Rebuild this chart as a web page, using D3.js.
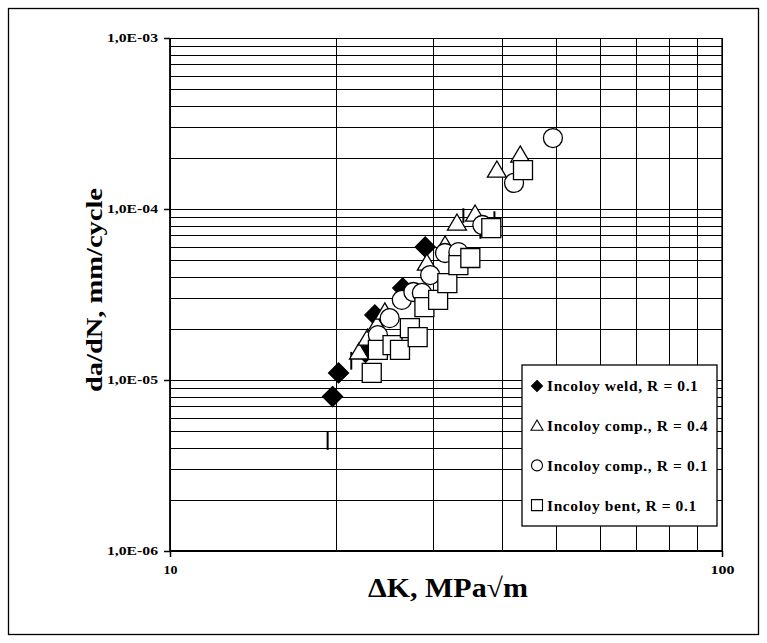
<!DOCTYPE html>
<html>
<head>
<meta charset="utf-8">
<script src="https://cdn.jsdelivr.net/npm/d3@7"></script>
<style>
  body { margin: 0; background: #fff; }
  svg text { font-family: "Liberation Serif", "Times New Roman", serif; font-weight: bold; fill: #000; }
</style>
</head>
<body>
<div id="chart"></div>
<script>
// Series values (dK in MPa*sqrt(m), da/dN in mm/cycle)
var weldK = [19.7, 20.2, 22.6, 23.5, 26.4, 29.0];
var weldV = [8.0e-6, 1.1e-5, 1.45e-5, 2.4e-5, 3.45e-5, 6.0e-5];

var comp04K = [22.0, 22.8, 23.7, 24.5, 29.2, 31.5, 33.1, 35.7, 39.1, 43.1];
var comp04V = [1.46e-5, 1.76e-5, 2.1e-5, 2.5e-5, 4.83e-5, 6.16e-5, 8.28e-5, 9.35e-5, 1.69e-4, 2.07e-4];

var comp01K = [23.8, 25.0, 26.3, 27.6, 28.6, 29.6, 31.5, 33.3, 36.8, 42.0, 49.4];
var comp01V = [1.83e-5, 2.3e-5, 2.94e-5, 3.27e-5, 3.23e-5, 4.11e-5, 5.53e-5, 5.6e-5, 8.06e-5, 1.42e-4, 2.6e-4];

var bentK = [23.2, 23.8, 25.3, 26.1, 27.2, 28.1, 28.9, 30.6, 31.8, 33.3, 35.0, 38.2, 43.6];
var bentV = [1.1e-5, 1.5e-5, 1.6e-5, 1.5e-5, 2.01e-5, 1.78e-5, 2.67e-5, 2.94e-5, 3.69e-5, 4.7e-5, 5.17e-5, 7.74e-5, 1.69e-4];

// leftover short vertical bars seen on the chart
var barK = [19.3, 21.3, 34.0, 36.5, 38.7];
var barLo = [3.9e-6, 1.15e-5, 8.3e-5, 6.7e-5, 8.8e-5];
var barHi = [5.0e-6, 1.46e-5, 1.01e-4, 7.25e-5, 9.7e-5];

var yTickLabels = ['1,0E-06', '1,0E-05', '1,0E-04', '1,0E-03'];
var xTickLabels = ['10', '100'];

var legendNames = ['Incoloy weld, R = 0.1', 'Incoloy comp., R = 0.4', 'Incoloy comp., R = 0.1', 'Incoloy bent, R = 0.1'];

var W = 767, H = 643;
var plotL = 170, plotR = 722, plotT = 38, plotB = 551;

var svg = d3.select('#chart').append('svg')
  .attr('width', W).attr('height', H);

// outer frame
svg.append('rect')
  .attr('x', 8.5).attr('y', 8.5)
  .attr('width', 750).attr('height', 626)
  .attr('fill', '#fff').attr('stroke', '#000').attr('stroke-width', 1.3);

var x = d3.scaleLog().domain([10, 100]).range([plotL, plotR]);
var y = d3.scaleLog().domain([1e-6, 1e-3]).range([plotB, plotT]);

// grid
var g = svg.append('g');
g.selectAll('line.hg').data(y.ticks())
  .enter().append('line')
  .attr('class', 'hg')
  .attr('x1', plotL).attr('x2', plotR)
  .attr('y1', function(d) { return Math.round(y(d)) + 0.5; })
  .attr('y2', function(d) { return Math.round(y(d)) + 0.5; })
  .attr('stroke', '#000').attr('stroke-width', 1);

g.selectAll('line.vg').data(x.ticks())
  .enter().append('line')
  .attr('class', 'vg')
  .attr('y1', plotT).attr('y2', plotB)
  .attr('x1', function(d) { return Math.round(x(d)) + 0.5; })
  .attr('x2', function(d) { return Math.round(x(d)) + 0.5; })
  .attr('stroke', '#000').attr('stroke-width', 1);

// axes
var yAxis = d3.axisLeft(y)
  .tickValues([1e-6, 1e-5, 1e-4, 1e-3])
  .tickSize(6).tickPadding(6)
  .tickFormat(function(d, i) { return yTickLabels[i]; });
var ya = svg.append('g').attr('transform', 'translate(' + plotL + ',0)').call(yAxis);

var xAxis = d3.axisBottom(x)
  .tickValues([10, 100])
  .tickSize(6)
  .tickFormat(function(d, i) { return xTickLabels[i]; });
var xa = svg.append('g').attr('transform', 'translate(0,' + plotB + ')').call(xAxis);

[ya, xa].forEach(function(a) {
  a.select('.domain').remove();
  a.selectAll('line').attr('stroke', '#000').attr('stroke-width', 1.5);
  a.selectAll('text').style('font-size', '13px')
    .style('font-family', '"Liberation Serif", serif').style('font-weight', 'bold');
});
ya.selectAll('text').attr('x', -12).attr('dy', '0.25em')
  .attr('textLength', 51).attr('lengthAdjust', 'spacingAndGlyphs');
xa.selectAll('text').attr('y', 23).attr('dy', 0)
  .attr('textLength', function(d) { return d === 10 ? 14 : 24; })
  .attr('lengthAdjust', 'spacingAndGlyphs');

// plot border lines
svg.append('line').attr('x1', plotL).attr('x2', plotL).attr('y1', plotT).attr('y2', plotB)
  .attr('stroke', '#000').attr('stroke-width', 1.8);
svg.append('line').attr('x1', plotL).attr('x2', plotR).attr('y1', plotB).attr('y2', plotB)
  .attr('stroke', '#000').attr('stroke-width', 1.8);
svg.append('line').attr('x1', plotR).attr('x2', plotR).attr('y1', plotT).attr('y2', plotB)
  .attr('stroke', '#000').attr('stroke-width', 1.3);

// short bars
svg.selectAll('line.bar').data(barK)
  .enter().append('line')
  .attr('x1', function(d) { return x(d); })
  .attr('x2', function(d) { return x(d); })
  .attr('y1', function(d, i) { return y(barLo[i]); })
  .attr('y2', function(d, i) { return y(barHi[i]); })
  .attr('stroke', '#000').attr('stroke-width', 2);

// marker shapes
function diamond(s) { return 'M0,' + (-s) + 'L' + s + ',0L0,' + s + 'L' + (-s) + ',0Z'; }
function triangle(s) { return 'M0,' + (-s * 0.95) + 'L' + s + ',' + (s * 0.75) + 'L' + (-s) + ',' + (s * 0.75) + 'Z'; }
function circle(s) { return 'M' + s + ',0A' + s + ',' + s + ' 0 1,1 ' + (-s) + ',0A' + s + ',' + s + ' 0 1,1 ' + s + ',0Z'; }
function square(s) { return 'M' + (-s) + ',' + (-s) + 'H' + s + 'V' + s + 'H' + (-s) + 'Z'; }

var series = [
  { k: weldK, v: weldV, shape: diamond, size: 10, fill: '#000' },
  { k: comp04K, v: comp04V, shape: triangle, size: 9.5, fill: '#fff' },
  { k: comp01K, v: comp01V, shape: circle, size: 9.5, fill: '#fff' },
  { k: bentK, v: bentV, shape: square, size: 9.5, fill: '#fff' }
];

series.forEach(function(s) {
  svg.append('g').selectAll('path').data(s.k)
    .enter().append('path')
    .attr('transform', function(d, i) { return 'translate(' + x(d) + ',' + y(s.v[i]) + ')'; })
    .attr('d', s.shape(s.size))
    .attr('fill', s.fill)
    .attr('stroke', '#000').attr('stroke-width', 1.3);
});

// legend
var lg = svg.append('g');
lg.append('rect')
  .attr('x', 522).attr('y', 365).attr('width', 195).attr('height', 161)
  .attr('fill', '#fff').attr('stroke', '#000').attr('stroke-width', 1.3);
var legSizes = [5.5, 6, 5.5, 5.5];
legendNames.forEach(function(name, i) {
  var yy = 386 + i * 39.7;
  lg.append('path')
    .attr('transform', 'translate(537,' + yy + ')')
    .attr('d', series[i].shape(legSizes[i]))
    .attr('fill', series[i].fill)
    .attr('stroke', '#000').attr('stroke-width', 1.1);
  lg.append('text')
    .attr('x', 547).attr('y', yy).attr('dy', '0.35em')
    .style('font-size', '15.5px').style('letter-spacing', '0.6px')
    .text(name);
});

// axis titles
svg.append('text')
  .attr('transform', 'translate(102,290) rotate(-90)')
  .attr('text-anchor', 'middle')
  .attr('textLength', 204).attr('lengthAdjust', 'spacingAndGlyphs')
  .style('font-size', '23px')
  .text('da/dN, mm/cycle');

svg.append('text')
  .attr('x', 448).attr('y', 597)
  .attr('text-anchor', 'middle')
  .attr('textLength', 160).attr('lengthAdjust', 'spacingAndGlyphs')
  .style('font-size', '27px')
  .text('\u0394K, MPa\u221Am');
</script>
</body>
</html>
